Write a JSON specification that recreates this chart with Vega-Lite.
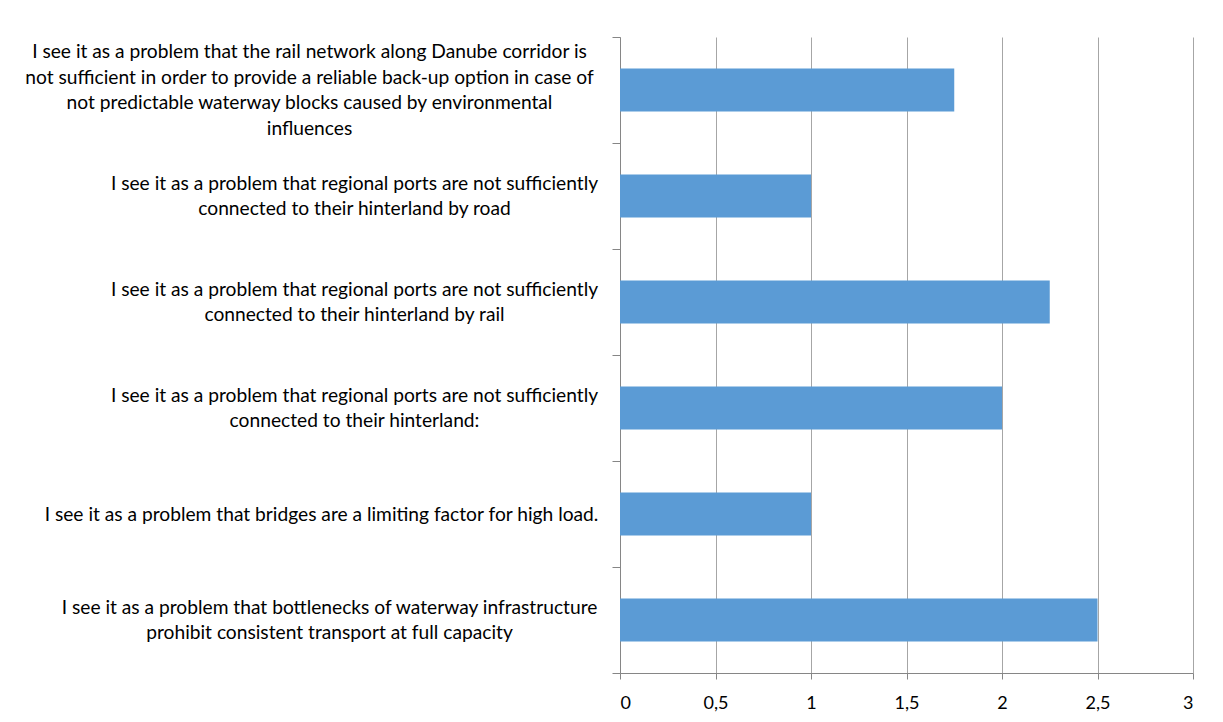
{
  "$schema": "https://vega.github.io/schema/vega-lite/v6.json",
  "width": 573,
  "height": 636,
  "autosize": {"type": "none"},
  "padding": {"left": 620, "top": 37, "right": 30, "bottom": 49},
  "background": "white",
  "config": {"view": {"stroke": null}, "font": "Lato"},
  "data": {
    "values": [
      {"statement": "I see it as a problem that the rail network along Danube corridor is\nnot sufficient in order to provide a reliable back-up option in case of\nnot predictable waterway blocks caused by environmental\ninfluences", "value": 1.75},
      {"statement": "I see it as a problem that regional ports are not sufficiently\nconnected to their hinterland by road", "value": 1},
      {"statement": "I see it as a problem that regional ports are not sufficiently\nconnected to their hinterland by rail", "value": 2.25},
      {"statement": "I see it as a problem that regional ports are not sufficiently\nconnected to their hinterland:", "value": 2},
      {"statement": "I see it as a problem that bridges are a limiting factor for high load.", "value": 1},
      {"statement": "I see it as a problem that bottlenecks of waterway infrastructure\nprohibit consistent transport at full capacity", "value": 2.5}
    ]
  },
  "mark": {"type": "bar", "color": "#5B9BD5", "height": {"band": 0.405}},
  "encoding": {
    "y": {
      "field": "statement",
      "type": "nominal",
      "sort": null,
      "scale": {"paddingInner": 0, "paddingOuter": 0},
      "axis": {
        "title": null,
        "labelExpr": "split(datum.label, '\\n')",
        "labelAlign": "center",
        "labelBaseline": "middle",
        "labelPadding": {
          "condition": [
            {"test": "test(regexp('Danube'), datum.label)", "value": 303},
            {"test": "test(regexp('regional ports'), datum.label)", "value": 258},
            {"test": "test(regexp('bridges'), datum.label)", "value": 291}
          ],
          "value": 283
        },
        "labelLimit": 0,
        "labelFontSize": 19.2,
        "labelLineHeight": 25.5,
        "labelColor": "#000000",
        "labelOffset": {
          "condition": [
            {"test": "length(split(datum.label, '\\n')) == 4", "value": -38.25},
            {"test": "length(split(datum.label, '\\n')) == 2", "value": -12.75}
          ],
          "value": 0
        },
        "tickBand": "extent",
        "tickSize": 8,
        "tickColor": "#868686",
        "domainColor": "#868686",
        "grid": false
      }
    },
    "x": {
      "field": "value",
      "type": "quantitative",
      "scale": {"domain": [0, 3], "nice": false},
      "axis": {
        "title": null,
        "values": [0, 0.5, 1, 1.5, 2, 2.5, 3],
        "labelExpr": "replace(toString(datum.value), '.', ',')",
        "labelFontSize": 18,
        "labelColor": "#000000",
        "labelPadding": 15,
        "tickSize": 6,
        "tickColor": "#868686",
        "domainColor": "#868686",
        "grid": true,
        "gridColor": "#a6a6a6"
      }
    }
  }
}
